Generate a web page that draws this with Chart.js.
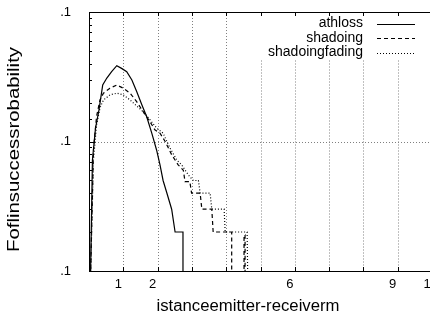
<!DOCTYPE html>
<html>
<head>
<meta charset="utf-8">
<script src="https://cdn.jsdelivr.net/npm/chart.js@4"></script>
<style>
  html, body { margin: 0; padding: 0; background: #fff; overflow: hidden; }
  #wrap { width: 430px; height: 318px; overflow: hidden; }
  canvas { display: block; }
</style>
</head>
<body>
<div id="wrap"><canvas id="chart" width="440" height="318"></canvas></div>
<script>
// ======================================
// Data
// ======================================
const seriesNames = ['athloss', 'shadoing', 'shadoingfading'];

const pathLossX = [0.04, 0.10, 0.19, 0.29, 0.40, 0.52, 0.66, 0.81, 0.95, 1.10, 1.25, 1.39, 1.54, 1.68, 1.83, 1.97, 2.07, 2.16, 2.27, 2.41, 2.51, 2.74, 2.74];
const pathLossY = [0.0008, 0.0072, 0.0127, 0.0175, 0.0273, 0.0309, 0.0346, 0.0385, 0.0367, 0.0346, 0.0299, 0.0243, 0.0192, 0.0156, 0.0116, 0.0086, 0.0066, 0.0050, 0.0040, 0.0030, 0.0020, 0.0020, 0.0005];

const shadowX = [0.04, 0.13, 0.22, 0.32, 0.42, 0.61, 0.81, 1.00, 1.20, 1.39, 1.58, 1.78, 1.92, 2.07, 2.22, 2.41, 2.60, 2.75, 2.80, 2.94, 2.99, 3.24, 3.29, 3.58, 3.62, 4.16, 4.16, 4.52, 4.52, 4.55, 4.55];
const shadowY = [0.0008, 0.0086, 0.0156, 0.0209, 0.0236, 0.0258, 0.0273, 0.0258, 0.0236, 0.0203, 0.0170, 0.0142, 0.0123, 0.0116, 0.0100, 0.0079, 0.0066, 0.0060, 0.0049, 0.0049, 0.0040, 0.0040, 0.0030, 0.0030, 0.0020, 0.0020, 0.0005, 0.0005, 0.0019, 0.0019, 0.0005];

const fadingX = [0.04, 0.13, 0.22, 0.32, 0.42, 0.61, 0.81, 1.00, 1.20, 1.39, 1.58, 1.78, 1.97, 2.16, 2.36, 2.56, 2.70, 2.90, 3.04, 3.19, 3.24, 3.53, 3.58, 3.94, 3.97, 4.61, 4.64];
const fadingY = [0.0008, 0.0072, 0.0134, 0.0182, 0.0209, 0.0229, 0.0236, 0.0229, 0.0209, 0.0188, 0.0170, 0.0147, 0.0127, 0.0116, 0.0089, 0.0072, 0.0066, 0.0055, 0.0050, 0.0050, 0.0040, 0.0040, 0.0030, 0.0030, 0.0020, 0.0020, 0.0005];

// tick labels (as printed in the figure)
const xTickValues = [1, 2, 6, 9, 10];
const xTickText = ['1', '2', '6', '9', '1'];
const yTickText = '.1';
const yGridValue = 0.01;

const xTitle = 'istanceemitter-receiverm';
const yTitle = 'Foflinsuccessrobability';

// ======================================
// Helpers
// ======================================
const FONT = "'Liberation Sans', Arial, sans-serif";
const toPoints = (xs, ys) => xs.map((x, i) => ({ x: x, y: ys[i] }));
const isDecade = v => Math.abs(Math.log10(v) - Math.round(Math.log10(v))) < 1e-6;

// text squeezed/stretched to a given width along its direction
function fitText(ctx, text, x, y, size, width, align, angle) {
  ctx.save();
  ctx.translate(x, y);
  if (angle) ctx.rotate(angle);
  ctx.font = size + 'px ' + FONT;
  const k = width ? width / ctx.measureText(text).width : 1;
  ctx.scale(k, 1);
  ctx.textAlign = align;
  ctx.textBaseline = 'middle';
  ctx.fillStyle = '#000';
  ctx.fillText(text, 0, 0);
  ctx.restore();
}

const legendRows = [23.5, 38, 52.5];
const legendTextRight = 363;

function legendBox(chart) {
  const ctx = chart.ctx;
  ctx.save();
  ctx.font = '14px ' + FONT;
  const w = Math.max(...chart.data.datasets.map(d => ctx.measureText(d.label).width));
  ctx.restore();
  return { left: legendTextRight - w - 8, bottom: legendRows[legendRows.length - 1] + 8 };
}

// ======================================
// Frame, grid, ticks, legend (gnuplot look)
// ======================================
const framePlugin = {
  id: 'frame',
  beforeDatasetsDraw(chart) {
    const { ctx, chartArea: a, scales: { x, y } } = chart;
    const key = legendBox(chart);
    ctx.save();
    ctx.strokeStyle = '#808080';
    ctx.lineWidth = 1;
    ctx.setLineDash([1, 2]);
    x.ticks.forEach(t => {
      if (t.value <= 0 || t.value >= 10) return;
      const px = Math.round(x.getPixelForValue(t.value)) + 0.5;
      const top = px > key.left ? key.bottom : a.top;
      ctx.beginPath();
      ctx.moveTo(px, top);
      ctx.lineTo(px, a.bottom);
      ctx.stroke();
    });
    const py = Math.round(y.getPixelForValue(yGridValue)) + 0.5;
    ctx.beginPath();
    ctx.moveTo(a.left, py);
    ctx.lineTo(a.right, py);
    ctx.stroke();
    ctx.restore();
  },
  afterDatasetsDraw(chart) {
    const { ctx, chartArea: a, scales: { x, y } } = chart;
    ctx.save();
    ctx.strokeStyle = '#000';
    ctx.lineWidth = 1;
    ctx.setLineDash([]);
    ctx.strokeRect(a.left + 0.5, a.top + 0.5, a.right - a.left, a.bottom - a.top);
    ctx.beginPath();
    y.ticks.forEach(t => {
      const py = Math.round(y.getPixelForValue(t.value)) + 0.5;
      const len = isDecade(t.value) ? 6 : 3;
      ctx.moveTo(a.left, py);
      ctx.lineTo(a.left + len, py);
    });
    x.ticks.forEach(t => {
      if (t.value <= 0 || t.value >= 10) return;
      const px = Math.round(x.getPixelForValue(t.value)) + 0.5;
      ctx.moveTo(px, a.bottom);
      ctx.lineTo(px, a.bottom - 4);
      ctx.moveTo(px, a.top);
      ctx.lineTo(px, a.top + 4);
    });
    ctx.stroke();
    ctx.restore();
  },
  afterDraw(chart) {
    const ctx = chart.ctx;
    chart.data.datasets.forEach((d, i) => {
      const yy = legendRows[i];
      fitText(ctx, d.label, legendTextRight, yy, 14, 0, 'right');
      ctx.save();
      ctx.strokeStyle = '#000';
      ctx.lineWidth = d.borderWidth;
      ctx.setLineDash(d.borderDash);
      ctx.beginPath();
      ctx.moveTo(377, Math.round(yy) + 0.5);
      ctx.lineTo(415, Math.round(yy) + 0.5);
      ctx.stroke();
      ctx.restore();
    });
    fitText(ctx, xTitle, 248, 307, 16, 183, 'center');
    fitText(ctx, yTitle, 15, 149.5, 16, 205, 'center', -Math.PI / 2);
  }
};

// ======================================
// Chart
// ======================================
new Chart(document.getElementById('chart'), {
  type: 'line',
  data: {
    datasets: [
      { label: seriesNames[0], data: toPoints(pathLossX, pathLossY), borderColor: '#000', borderWidth: 1.2, borderDash: [] },
      { label: seriesNames[1], data: toPoints(shadowX, shadowY), borderColor: '#000', borderWidth: 1.2, borderDash: [4, 3] },
      { label: seriesNames[2], data: toPoints(fadingX, fadingY), borderColor: '#000', borderWidth: 1.2, borderDash: [1, 2] }
    ]
  },
  options: {
    responsive: false,
    animation: false,
    elements: { point: { radius: 0 }, line: { tension: 0, fill: false } },
    layout: { padding: { top: 12, right: 8, left: 0, bottom: 0 } },
    plugins: { legend: { display: false }, tooltip: { enabled: false } },
    scales: {
      x: {
        type: 'linear', min: 0, max: 10,
        afterFit: s => { s.height = 47; s.paddingLeft = 0; s.paddingRight = 0; },
        grid: { display: false, drawTicks: false },
        border: { display: false },
        ticks: {
          stepSize: 1, autoSkip: false, maxRotation: 0, padding: 6, labelOffset: -5,
          color: '#000', font: { family: FONT, size: 13 },
          callback: v => { const i = xTickValues.indexOf(v); return i < 0 ? '' : xTickText[i]; }
        }
      },
      y: {
        type: 'logarithmic', min: 0.001, max: 0.1,
        afterFit: s => { s.width = 89; s.paddingTop = 0; s.paddingBottom = 0; },
        grid: { display: false, drawTicks: false },
        border: { display: false },
        ticks: {
          autoSkip: false, padding: 18,
          color: '#000', font: { family: FONT, size: 13 },
          callback: v => isDecade(v) ? yTickText : ''
        }
      }
    }
  },
  plugins: [framePlugin]
});
</script>
</body>
</html>
